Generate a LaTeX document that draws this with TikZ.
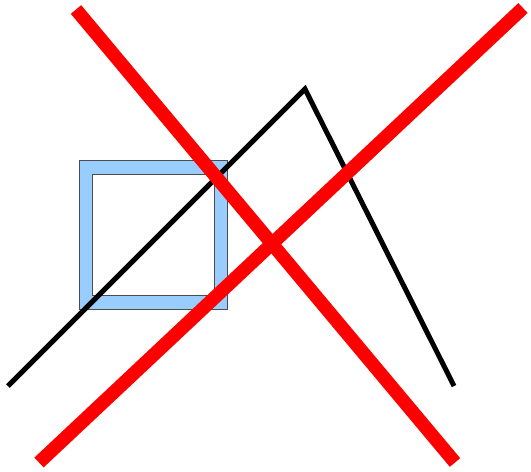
\documentclass[tikz,border=0pt]{standalone}
\usepackage{tikz}

\definecolor{frameblue}{RGB}{153,204,255}

\begin{document}
\begin{tikzpicture}[
            x=1pt, y=-1pt,
            frame/.style={draw=black!70,line width=0.8pt,fill=frameblue,even odd rule},
            path/.style={draw=black,line width=5pt},
            cross/.style={draw=red,line width=13.5pt}
        ]

        \useasboundingbox (0,0) rectangle (531,472);

        \coordinate (start) at (8,386);
        \coordinate (apex) at (305,89);
        \coordinate (stop) at (454,386);

        % square frame
        \path[frame] (79,160.5) rectangle (227.5,309) (92.5,174) rectangle (214,295.5);

        \draw[path] (start) -- (apex) -- (stop);

        % the cross
        \coordinate (tl) at (76,9.5);
        \coordinate (br) at (455,462.5);
        \coordinate (tr) at (523,8);
        \coordinate (bl) at (39,462.5);
        \draw[cross] (tl) -- (br);
        \draw[cross] (tr) -- (bl);

    \end{tikzpicture}
\end{document}
